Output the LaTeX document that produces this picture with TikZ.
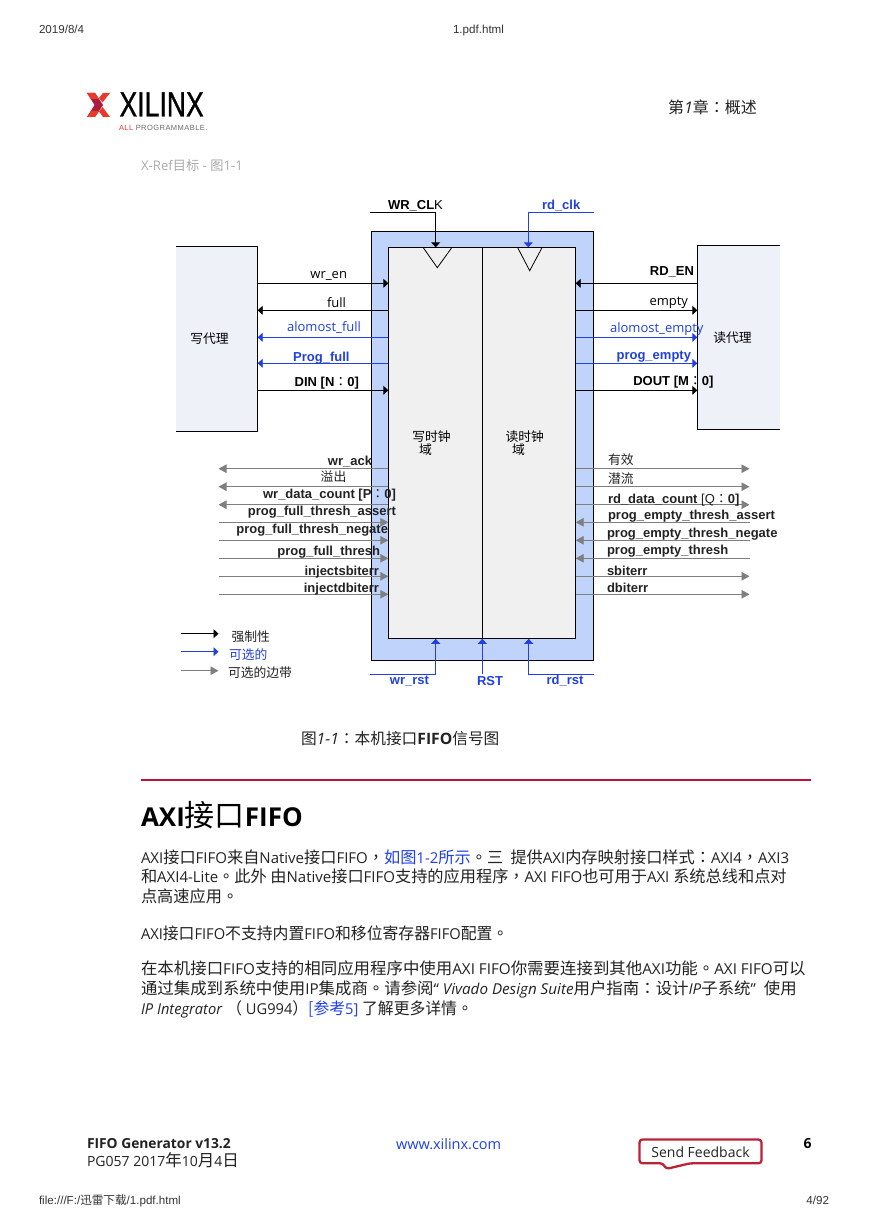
\documentclass[tikz,border=0pt]{standalone}
\usepackage{fontspec}
\usetikzlibrary{arrows.meta}
\setmainfont{Open Sans}
\newfontfamily\ar{Liberation Sans}
\newfontfamily\lgf[FakeBold=1]{Liberation Sans}
\newfontfamily\lsf[LetterSpace=6]{Liberation Sans}
\newfontfamily\cj{Noto Sans CJK SC}
\newfontfamily\cjt{Noto Sans CJK TC}
\definecolor{blu}{HTML}{2040E0}
\definecolor{gry}{HTML}{7F7F7F}
\definecolor{lbl}{HTML}{222222}
\definecolor{outerblue}{HTML}{C0D4FB}
\definecolor{agentfill}{HTML}{EEF1F8}
\definecolor{innerfill}{HTML}{F0F0F0}
\definecolor{crim}{HTML}{A81E3C}
\definecolor{rulered}{HTML}{C0103A}
\definecolor{logored}{HTML}{E83A2A}
\definecolor{fbred}{HTML}{BE2036}
\definecolor{lnk}{HTML}{1F3FE8}
\newcommand\fs[1]{\fontsize{#1}{#1}\selectfont}
\newcommand\cc[1]{{\cj #1}}
\newcommand\cp[1]{{\cjt\mdseries #1}}
\newcommand\cb[1]{{\cj\fs{16.2}#1}}
\newcommand\cq[1]{{\cjt\fs{16.2}#1}}
\tikzset{
 x=1pt,y=-1pt,
 txt/.style={inner sep=0,outer sep=0,yshift=-2pt},
 txl/.style={txt,anchor=west},
 txr/.style={txt,anchor=east},
 txm/.style={txt,anchor=center},
 dgr/.style={font=\ar\fs{13}\bfseries,text height=9.75pt,text depth=2.6pt},
 dgn/.style={font=\fs{13},text height=9.75pt,text depth=2.6pt},
 cjl/.style={font=\cj\fs{12.8},text height=9.6pt,text depth=2.5pt},
 page/.style={font=\fs{15},text height=11.2pt,text depth=3pt},
 small/.style={font=\ar\fs{11.6},text=black!80,text height=8.7pt,text depth=2.3pt},
 lineb/.style={line width=.9pt,draw=black,-{Triangle[length=5pt,width=9pt]}},
 linebl/.style={line width=.9pt,draw=blu,-{Triangle[length=5pt,width=9pt]}},
 lineg/.style={line width=.9pt,draw=gry,-{Triangle[length=8pt,width=8.5pt]}},
 plainb/.style={line width=.9pt,draw=black},
 boxn/.style={inner sep=0,outer sep=0,anchor=north west},
}
\begin{document}
\begin{tikzpicture}
\useasboundingbox (0,0) rectangle (868,1228);
\fill[white] (0,0) rectangle (868,1228);
% page header
\node[txl,small] (hdate) at (39,28) {2019/8/4};
\node[txm,small] (hfile) at (478.5,28) {1.pdf.html};
\node[txl,font=\fs{16},text=lbl,text height=12pt,text depth=3.2pt] (chap) at (668,107) {\cc{第}\textit{1}\cc{章}\cp{：}\cc{概述}};
\node[txl,font=\fs{13.2},text=black!33,text height=9.9pt,text depth=2.6pt] (xref) at (141,165) {X-Ref\cc{目标} - \cc{图}1-1};
% logo
\fill[crim] (87,93) -- (95,93) -- (103,105) -- (95,117) -- (87,117) -- (94.5,105) -- cycle;
\fill[logored] (87,93) -- (95,93) -- (99,99) -- (91,99) -- cycle;
\fill[logored] (91,111) -- (99,111) -- (95,117) -- (87,117) -- cycle;
\fill[logored] (110,93) -- (103,93) -- (99,98) -- (102.5,102.5) -- cycle;
\fill[logored] (110,117) -- (103,117) -- (99,111.5) -- (102.5,107) -- cycle;
\node[txl,font=\lgf\fs{35},xscale=.76,text=black,text height=26pt,text depth=7pt] (logo) at (119.5,105) {XILINX};
\node[txl,font=\lsf\fs{7.5},text=gry!85!black,text height=5.6pt,text depth=1.5pt] (logosub) at (119,126) {\textcolor{logored}{ALL} PROGRAMMABLE.};
% blocks
\node[boxn,draw=black,line width=.9pt,fill=outerblue,minimum width=222,minimum height=429.5] (outer) at (371.5,231) {};
\node[boxn,draw=black,line width=.9pt,fill=innerfill,minimum width=94,minimum height=391] (wrbox) at (388.3,247.3) {};
\node[boxn,draw=black,line width=.9pt,fill=innerfill,minimum width=93.4,minimum height=391] (rdbox) at (482.3,247.3) {};
\node[boxn,fill=agentfill,minimum width=81.7,minimum height=185] (wragent) at (176,246.3) {};
\node[boxn,fill=agentfill,minimum width=82.7,minimum height=184] (rdagent) at (697.3,245.3) {};
\draw[plainb] (wragent.north west) -- (wragent.north east) -- (wragent.south east) -- (wragent.south west);
\draw[plainb] (rdagent.north east) -- (rdagent.north west) -- (rdagent.south west) -- (rdagent.south east);
% clock triangles
\draw[line width=.8pt] (423.3,247.7) -- (437.3,267.7) -- (451.7,247.7);
\draw[line width=.8pt] (517.7,247.7) -- (529.7,270.7) -- (542,247.7);
% clock and reset lines
\coordinate (wrclkstart) at (370,212.3);
\coordinate (rdclkstart) at (593.7,212.3);
\coordinate (wrrststart) at (370,674.3);
\coordinate (rdrststart) at (593.7,674.3);
\coordinate (rststart) at (482.3,674.3);
\coordinate (wrclkin) at (435.7,247.3);
\coordinate (rdclkin) at (528.3,247.3);
\coordinate (wrrstin) at (435.7,638.8);
\coordinate (rdrstin) at (528.7,638.8);
\coordinate (rstin) at (482.3,638.8);
\draw[lineb] (wrclkstart) -| (wrclkin);
\draw[linebl] (rdclkstart) -| (rdclkin);
\draw[linebl] (wrrststart) -| (wrrstin);
\draw[linebl] (rdrststart) -| (rdrstin);
\draw[linebl] (rststart) -- (rstin);
% write agent connectors
\draw[lineb] (wragent.east |- 0,283.3) -- (wrbox.west |- 0,283.3);
\draw[lineb] (wrbox.west |- 0,310.3) -- (wragent.east |- 0,310.3);
\draw[linebl] (wrbox.west |- 0,337.3) -- (wragent.east |- 0,337.3);
\draw[linebl] (wrbox.west |- 0,363.3) -- (wragent.east |- 0,363.3);
\draw[lineb] (wragent.east |- 0,390.3) -- (wrbox.west |- 0,390.3);
% read agent connectors
\draw[lineb] (rdagent.west |- 0,283.3) -- (rdbox.east |- 0,283.3);
\draw[lineb] (rdbox.east |- 0,310.3) -- (rdagent.west |- 0,310.3);
\draw[linebl] (rdbox.east |- 0,337.3) -- (rdagent.west |- 0,337.3);
\draw[linebl] (rdbox.east |- 0,363.3) -- (rdagent.west |- 0,363.3);
\draw[lineb] (rdbox.east |- 0,390.3) -- (rdagent.west |- 0,390.3);
% sideband lines
\foreach \yy/\nm in {468.7/a,486.7/b,504.7/c,522.3/d,540.3/e,558.3/f,576.3/g,594.3/h}{
  \coordinate (lf\nm) at (218.5,\yy);
  \coordinate (rg\nm) at (749.5,\yy);
}
\foreach \nm in {a,b,c}{
  \draw[lineg] (wrbox.west |- lf\nm) -- (lf\nm);
  \draw[lineg] (rdbox.east |- rg\nm) -- (rg\nm);
}
\foreach \nm in {d,e,f}{
  \draw[lineg] (lf\nm) -- (wrbox.west |- lf\nm);
  \draw[lineg] (rg\nm) -- (rdbox.east |- rg\nm);
}
\foreach \nm in {g,h}{
  \draw[lineg] (lf\nm) -- (wrbox.west |- lf\nm);
  \draw[lineg] (rdbox.east |- rg\nm) -- (rg\nm);
}
% legend lines
\coordinate (lgaa) at (181,633.7); \coordinate (lgab) at (218.5,633.7);
\coordinate (lgba) at (181,651.7); \coordinate (lgbb) at (218.5,651.7);
\coordinate (lgca) at (181,670.7); \coordinate (lgcb) at (218.5,670.7);
\draw[lineb] (lgaa) -- (lgab);
\draw[linebl] (lgba) -- (lgbb);
\draw[lineg] (lgca) -- (lgcb);
% diagram labels
\node[txl,dgr] (twrclk) at (388,203.5) {WR\_CL{\mdseries K}};
\node[txl,dgr,text=blu] (trdclk) at (542,204) {rd\_clk};
\node[txr,dgn] (twren) at (347,273) {wr\_en};
\node[txr,dgn] (tfull) at (346,302) {full};
\node[txr,dgn,text=blu] (tafull) at (361,326) {alomost\_full};
\node[txr,dgr,text=blu] (tpfull) at (349.5,356) {Prog\_full};
\node[txr,dgr] (tdin) at (359,381) {DIN [N\cp{：}0]};
\node[txm,cjl] (twa) at (209.5,338) {写代理};
\node[txr,dgr] (trden) at (694,270) {RD\_EN};
\node[txr,dgn] (tempty) at (688,300) {empty};
\node[txr,dgn,text=blu] (taempty) at (703.5,327) {alomost\_empty};
\node[txr,dgr,text=blu] (tpempty) at (691,354) {prog\_empty};
\node[txr,dgr] (tdout) at (713.5,380) {DOUT [M\cp{：}0]};
\node[txm,cjl] (tra) at (732.5,337) {读代理};
\node[txm,cjl] (twd) at (431.5,436) {写时钟};
\node[txm,cjl] (twd2) at (425.5,449) {域};
\node[txm,cjl] (trd) at (524.7,436) {读时钟};
\node[txm,cjl] (trd2) at (518.5,449) {域};
\node[txr,dgr,text=lbl] (twack) at (372,460) {wr\_ack};
\node[txm,cjl,text=lbl] (tovf) at (333.5,476) {溢出};
\node[txr,dgr,text=lbl] (twdc) at (396,493) {wr\_data\_count [P\cp{：}0]};
\node[txr,dgr,text=lbl] (tpfa) at (396,510) {prog\_full\_thresh\_assert};
\node[txr,dgr,text=lbl] (tpfn) at (388,528) {prog\_full\_thresh\_negate};
\node[txr,dgr,text=lbl] (tpft) at (380,550) {prog\_full\_thresh};
\node[txr,dgr,text=lbl] (tisb) at (379,569.5) {injectsbiterr};
\node[txr,dgr,text=lbl] (tidb) at (379,587) {injectdbiterr};
\node[txl,cjl,text=lbl] (tvalid) at (608,459) {有效};
\node[txl,cjl,text=lbl] (tund) at (608,478) {潜流};
\node[txl,dgr,text=lbl] (trdc) at (608,497.5) {rd\_data\_count {\mdseries[Q}\cp{：}0]};
\node[txl,dgr,text=lbl] (tpea) at (608,514) {prog\_empty\_thresh\_assert};
\node[txl,dgr,text=lbl] (tpen) at (607,532) {prog\_empty\_thresh\_negate};
\node[txl,dgr,text=lbl] (tpet) at (607,549) {prog\_empty\_thresh};
\node[txl,dgr,text=lbl] (tsb) at (607,569.5) {sbiterr};
\node[txl,dgr,text=lbl] (tdb) at (607,587) {dbiterr};
\node[txl,cjl,text=lbl] (lg1) at (231.5,636) {强制性};
\node[txl,cjl,text=blu] (lg2) at (229,654) {可选的};
\node[txl,cjl,text=lbl] (lg3) at (228,672) {可选的边带};
\node[txm,dgr,text=blu] (twrrst) at (409.5,679) {wr\_rst};
\node[txm,dgr,text=blu] (trst) at (490,680) {RST};
\node[txm,dgr,text=blu] (trdrst) at (565,679) {rd\_rst};
% caption and section
\node[txl,font=\fs{15.7},text=lbl,text height=11.6pt,text depth=3.1pt] (cap) at (301,738) {\cc{图}\textit{1-1}\cp{：}\cc{本机接口}\textbf{FIFO}\cc{信号图}};
\fill[rulered] (141,778.6) rectangle (811,780.6);
\node[txl,font=\fs{26}\bfseries,text height=19.5pt,text depth=5.2pt,yshift=-1pt] (sect) at (141,816) {AXI{\cj\mdseries\fs{30}接口}FIFO};
\begin{scope}[every node/.style={txl,page,text=lbl}]
\node (b1) at (141,857) {AXI\cb{接口}FIFO\cb{来自}Native\cb{接口}FIFO\cq{，}\textcolor{lnk}{\cb{如图}1-2\cb{所示}}\cq{。}\cb{三\ \ 提供}AXI\cb{内存映射接口样式}\cq{：}AXI4\cq{，}AXI3};
\node (b2) at (141,876.5) {\cb{和}AXI4-Lite\cq{。}\cb{此外 由}Native\cb{接口}FIFO\cb{支持的应用程序}\cq{，}AXI FIFO\cb{也可用于}AXI \cb{系统总线和点对}};
\node (b3) at (141,896) {\cb{点高速应用}\cq{。}};
\node[xscale=.978] (b4) at (141,933) {AXI\cb{接口}FIFO\cb{不支持内置}FIFO\cb{和移位寄存器}FIFO\cb{配置}\cq{。}};
\node[xscale=1.015] (b5) at (141,968) {\cb{在本机接口}FIFO\cb{支持的相同应用程序中使用}AXI FIFO\cb{你需要连接到其他}AXI\cb{功能}\cq{。}AXI FIFO\cb{可以}};
\node[xscale=1.014] (b6) at (141,988) {\cb{通过集成到系统中使用}IP\cb{集成商}\cq{。}\cb{请参阅}“ \textit{Vivado Design Suite}\cb{用户指南}\cq{：}\cb{设计}\textit{IP}\cb{子系统}”\ \ \cb{使用}};
\node[xscale=.976] (b7) at (141,1008) {\textit{IP Integrator} \cq{（} UG994\cq{）}\textcolor{lnk}{\cb{[参考}5]} \cb{了解更多详情}\cq{。}};
\end{scope}
% footer
\node[txl,font=\fs{13.8}\bfseries,text=lbl,text height=10.4pt,text depth=2.8pt] (f1) at (87,1143) {FIFO Generator v13.2};
\node[txl,font=\fs{14},text=lbl,text height=10.5pt,text depth=2.8pt] (f2) at (87,1161) {PG057 2017{\cj\fs{16.5}年}10{\cj\fs{16.5}月}4{\cj\fs{16.5}日}};
\node[txl,font=\fs{14.5},text=lnk,text height=10.9pt,text depth=2.9pt] (f3) at (396,1143) {www.xilinx.com};
\draw[fbred,line width=2.3pt,rounded corners=3pt,fill=white] (639.5,1139.5) -- (761.5,1139.5) -- (761.5,1163.3) -- (690,1163.3) -- (666,1169) -- (663,1163.3) -- (639.5,1163.3) -- cycle;
\node[txm,font=\fs{14},text=lbl,text height=10.5pt,text depth=2.8pt] (f4) at (700.5,1152) {Send Feedback};
\node[txl,font=\fs{14}\bfseries,text height=10.5pt,text depth=2.8pt] (f5) at (803.5,1143) {6};
\node[txl,small] (ffile) at (39,1199) {file:///F:/\cc{迅雷下载}/1.pdf.html};
\node[txr,small] (fpage) at (829,1199) {4/92};
\end{tikzpicture}
\end{document}
